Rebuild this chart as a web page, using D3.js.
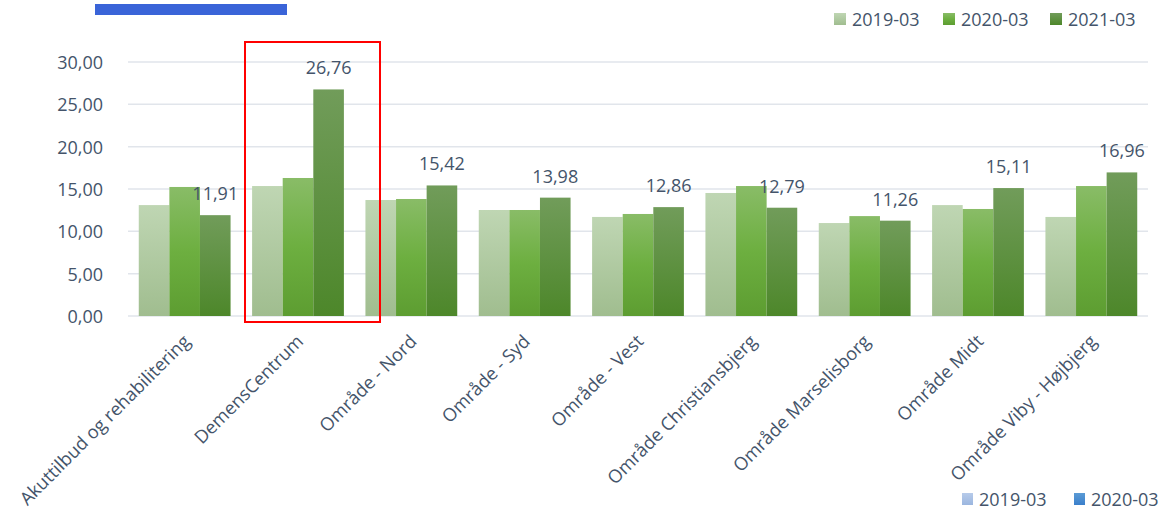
<!DOCTYPE html>
<html>
<head>
<meta charset="utf-8">
<script src="https://cdn.jsdelivr.net/npm/d3@7"></script>
<style>
  html, body { margin: 0; padding: 0; background: #ffffff; }
  svg { display: block; font-family: "Open Sans", "Noto Sans", sans-serif; }
</style>
</head>
<body>
<svg id="chart" width="1162" height="511"></svg>
<script>
const categories = [
  "Akuttilbud og rehabilitering",
  "DemensCentrum",
  "Område - Nord",
  "Område - Syd",
  "Område - Vest",
  "Område Christiansbjerg",
  "Område Marselisborg",
  "Område Midt",
  "Område Viby - Højbjerg"
];
const seriesNames = ["2019-03", "2020-03", "2021-03"];
const values2019 = [13.10, 15.35, 13.70, 12.52, 11.70, 14.53, 10.98, 13.10, 11.70];
const values2020 = [15.24, 16.30, 13.82, 12.52, 12.05, 15.35, 11.80, 12.64, 15.35];
const values2021 = [11.91, 26.76, 15.42, 13.98, 12.86, 12.79, 11.26, 15.11, 16.96];
const yTicks = [0, 5, 10, 15, 20, 25, 30];
const bottomLegendNames = ["2019-03", "2020-03"];

const seriesValues = [values2019, values2020, values2021];
const textColor = "#44546a";
const fmt = v => d3.format(".2f")(v).replace(".", ",");

const svg = d3.select("#chart");
const defs = svg.append("defs");

const gradStops = [
  [["0%", "#bfd6b3"], ["100%", "#a0bd8f"]],
  [["0%", "#89bc67"], ["50%", "#6daf40"], ["100%", "#5d9d31"]],
  [["0%", "#719c5a"], ["100%", "#4d872a"]]
];
gradStops.forEach((stops, i) => {
  const g = defs.append("linearGradient").attr("id", "g" + i)
    .attr("x1", 0).attr("y1", 0).attr("x2", 0).attr("y2", 1);
  stops.forEach(s => g.append("stop").attr("offset", s[0]).attr("stop-color", s[1]));
});
const blueStops = [
  [["0%", "#b7cbea"], ["100%", "#9bb6df"]],
  [["0%", "#5b9bd5"], ["100%", "#3a7fcb"]]
];
blueStops.forEach((stops, i) => {
  const g = defs.append("linearGradient").attr("id", "b" + i)
    .attr("x1", 0).attr("y1", 0).attr("x2", 0).attr("y2", 1);
  stops.forEach(s => g.append("stop").attr("offset", s[0]).attr("stop-color", s[1]));
});

const x0 = d3.scaleBand().domain(categories).range([128, 1148])
  .paddingInner(0.19).paddingOuter(0.095);
const x1 = d3.scaleBand().domain(seriesNames).range([0, x0.bandwidth()]).padding(0);
const y = d3.scaleLinear().domain([0, 30]).range([316, 62]);

// gridlines
svg.append("g").selectAll("line").data(yTicks).join("line")
  .attr("x1", 128).attr("x2", 1148)
  .attr("y1", d => y(d)).attr("y2", d => y(d))
  .attr("stroke", "#e1e5eb").attr("stroke-width", 1.5);

// y axis labels
const yAxis = d3.axisLeft(y).tickValues(yTicks).tickFormat(fmt).tickSize(0).tickPadding(0);
const yg = svg.append("g").attr("transform", "translate(103,0)").call(yAxis);
yg.select(".domain").remove();
yg.selectAll("text").attr("fill", textColor).attr("font-size", 18)
  .attr("font-family", "'Open Sans', sans-serif").attr("dy", "0.36em");

// bars
const groups = svg.append("g").selectAll("g").data(categories).join("g")
  .attr("transform", d => `translate(${x0(d)},0)`);
groups.selectAll("rect")
  .data((c, ci) => seriesNames.map((s, si) => ({ s, si, v: seriesValues[si][ci] })))
  .join("rect")
  .attr("x", d => x1(d.s))
  .attr("width", x1.bandwidth())
  .attr("y", d => y(d.v))
  .attr("height", d => y(0) - y(d.v))
  .attr("fill", d => `url(#g${d.si})`);

// data labels on last series
svg.append("g").selectAll("text").data(categories).join("text")
  .attr("x", (c) => x0(c) + x1(seriesNames[2]) + x1.bandwidth() / 2)
  .attr("y", (c, i) => y(values2021[i]) - 15)
  .attr("text-anchor", "middle")
  .attr("font-size", 18).attr("fill", textColor)
  .text((c, i) => fmt(values2021[i]));

// category labels
svg.append("g").selectAll("text").data(categories).join("text")
  .attr("transform", c => `translate(${x0(c) + x0.bandwidth() / 2 + 2},338) rotate(-45)`)
  .attr("text-anchor", "end").attr("dy", "0.35em")
  .attr("font-size", 18.2).attr("fill", textColor)
  .text(c => c);

// highlight box
svg.append("rect").attr("x", 245).attr("y", 42).attr("width", 135).attr("height", 280)
  .attr("fill", "none").attr("stroke", "#ff0000").attr("stroke-width", 2);

// top-left blue bar
svg.append("rect").attr("x", 95).attr("y", 4).attr("width", 192).attr("height", 11)
  .attr("fill", "#3a64d8");

// top legend
const legendX = [834, 943, 1050];
const lg = svg.append("g");
seriesNames.forEach((s, i) => {
  lg.append("rect").attr("x", legendX[i]).attr("y", 13).attr("width", 12).attr("height", 12)
    .attr("fill", `url(#g${i})`);
  lg.append("text").attr("x", legendX[i] + 18).attr("y", 26)
    .attr("font-size", 18).attr("fill", textColor).text(s);
});

// bottom legend
const bLegendX = [962, 1074];
const bl = svg.append("g");
bottomLegendNames.forEach((s, i) => {
  bl.append("rect").attr("x", bLegendX[i]).attr("y", 493).attr("width", 11).attr("height", 12)
    .attr("fill", `url(#b${i})`);
  bl.append("text").attr("x", bLegendX[i] + 17).attr("y", 506)
    .attr("font-size", 18).attr("fill", textColor).text(s);
});
</script>
</body>
</html>
